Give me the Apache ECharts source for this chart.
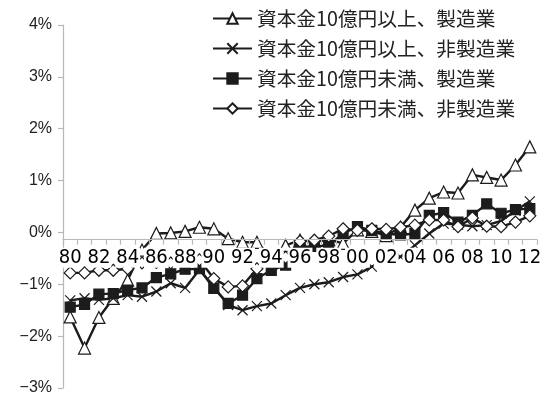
<!DOCTYPE html>
<html>
<head>
<meta charset="utf-8">
<script src="https://cdn.jsdelivr.net/npm/echarts@6/dist/echarts.min.js"></script>
<style>
  html, body { margin: 0; padding: 0; background: #fff; }
  #chart { width: 547px; height: 399px; }
</style>
</head>
<body>
<div id="chart"></div>
<script>
// Fiscal years 1980-2012, two-digit labels
const years = ['80','81','82','83','84','85','86','87','88','89','90','91','92','93','94','95','96',
               '97','98','99','00','01','02','03','04','05','06','07','08','09','10','11','12'];

// Series names (legend order)
const seriesNames = [
  '資本金10億円以上、製造業',
  '資本金10億円以上、非製造業',
  '資本金10億円未満、製造業',
  '資本金10億円未満、非製造業'
];

// Values in percent
const largeMfg = [-1.63,-2.23,-1.64,-1.27,-0.92,-0.34,-0.02,-0.01,0.02,0.10,0.07,-0.12,-0.19,-0.19,-0.48,-0.25,-0.15,
                  -0.18,-0.14,-0.21,0.05,0.02,-0.06,0.10,0.43,0.66,0.78,0.76,1.11,1.06,1.01,1.30,1.65];
const largeNonMfg = [-1.31,-1.27,-1.30,-1.27,-1.21,-1.24,-1.14,-0.98,-1.07,-0.72,-1.05,-1.40,-1.50,-1.42,-1.37,-1.21,-1.07,
                     -1.00,-0.96,-0.86,-0.81,-0.66,-0.56,-0.47,-0.25,-0.02,0.17,0.15,0.12,0.14,0.22,0.42,0.60];
const smallMfg = [-1.44,-1.39,-1.19,-1.18,-1.11,-1.07,-0.87,-0.80,-0.71,-0.70,-1.08,-1.37,-1.21,-0.89,-0.73,-0.63,-0.28,
                  -0.27,-0.25,-0.02,0.11,0.04,-0.02,-0.05,-0.02,0.33,0.38,0.20,0.33,0.55,0.37,0.44,0.46];
const smallNonMfg = [-0.78,-0.78,-0.73,-0.73,-0.70,-0.59,-0.58,-0.59,-0.55,-0.53,-0.89,-1.05,-1.03,-0.70,-0.58,-0.48,-0.17,
                     -0.15,-0.07,0.07,0.04,0.07,0.06,0.10,0.14,0.24,0.24,0.11,0.28,0.12,0.11,0.20,0.32];

// Y axis range and step (percent)
const yMin = -3, yMax = 4, yStep = 1;

const INK = '#1c1c1c';
const AXIS_GRAY = '#b8b8b8';
const crossPath = 'path://M0,0L10,10M10,0L0,10';

function lineSeries(name, data, symbol, size, fill) {
  return {
    name: name,
    type: 'line',
    data: data,
    symbol: symbol,
    symbolSize: size,
    showSymbol: true,
    showAllSymbol: true,
    lineStyle: { color: INK, width: 2.4 },
    itemStyle: { color: fill, borderColor: INK, borderWidth: 1.2 },
    emphasis: { disabled: true },
    animation: false
  };
}

const chart = echarts.init(document.getElementById('chart'), null, { renderer: 'canvas' });
chart.setOption({
  backgroundColor: '#fff',
  animation: false,
  grid: { left: 63, right: 10, top: 25, bottom: 11, containLabel: false },
  legend: {
    data: seriesNames,
    orient: 'vertical',
    left: 207,
    top: 3,
    itemWidth: 39,
    itemHeight: 13,
    itemGap: 9,
    textStyle: { fontFamily: '"Noto Sans CJK JP", sans-serif', fontSize: 19.7, color: '#222', lineHeight: 21 }
  },
  xAxis: {
    type: 'category',
    data: years,
    boundaryGap: true,
    z: 10,
    axisLine: { onZero: false, lineStyle: { color: AXIS_GRAY, width: 1.2 } },
    axisTick: { show: true, interval: 0, length: 5, lineStyle: { color: AXIS_GRAY, width: 1.2 } },
    axisLabel: {
      interval: 1,
      margin: 8,
      fontFamily: '"Liberation Sans Narrow", "DejaVu Sans Condensed", sans-serif',
      fontSize: 20,
      color: '#000',
      backgroundColor: '#fff',
      padding: [0, 1, 0, 1]
    },
    splitLine: { show: false }
  },
  yAxis: {
    type: 'value',
    min: yMin,
    max: yMax,
    interval: yStep,
    axisLine: { show: true, lineStyle: { color: AXIS_GRAY, width: 1.2 } },
    axisTick: { show: true, length: 5, lineStyle: { color: AXIS_GRAY, width: 1.2 } },
    axisLabel: {
      margin: 11,
      fontFamily: '"Liberation Sans", Arial, sans-serif',
      fontSize: 16,
      color: '#222',
      formatter: v => (v < 0 ? '\u2212' + Math.abs(v) : v) + '%'
    },
    splitLine: { show: false }
  },
  series: [
    lineSeries(seriesNames[0], largeMfg, 'triangle', 12, '#fff'),
    lineSeries(seriesNames[1], largeNonMfg, crossPath, 10, 'none'),
    lineSeries(seriesNames[2], smallMfg, 'rect', 10, INK),
    lineSeries(seriesNames[3], smallNonMfg, 'diamond', 12, '#fff')
  ]
});

// Lift the category axis so it crosses the value axis at 0%
const zeroY = chart.convertToPixel({ yAxisIndex: 0 }, 0);
const floorY = chart.convertToPixel({ yAxisIndex: 0 }, yMin);
chart.setOption({ xAxis: { offset: zeroY - floorY } });
</script>
</body>
</html>
